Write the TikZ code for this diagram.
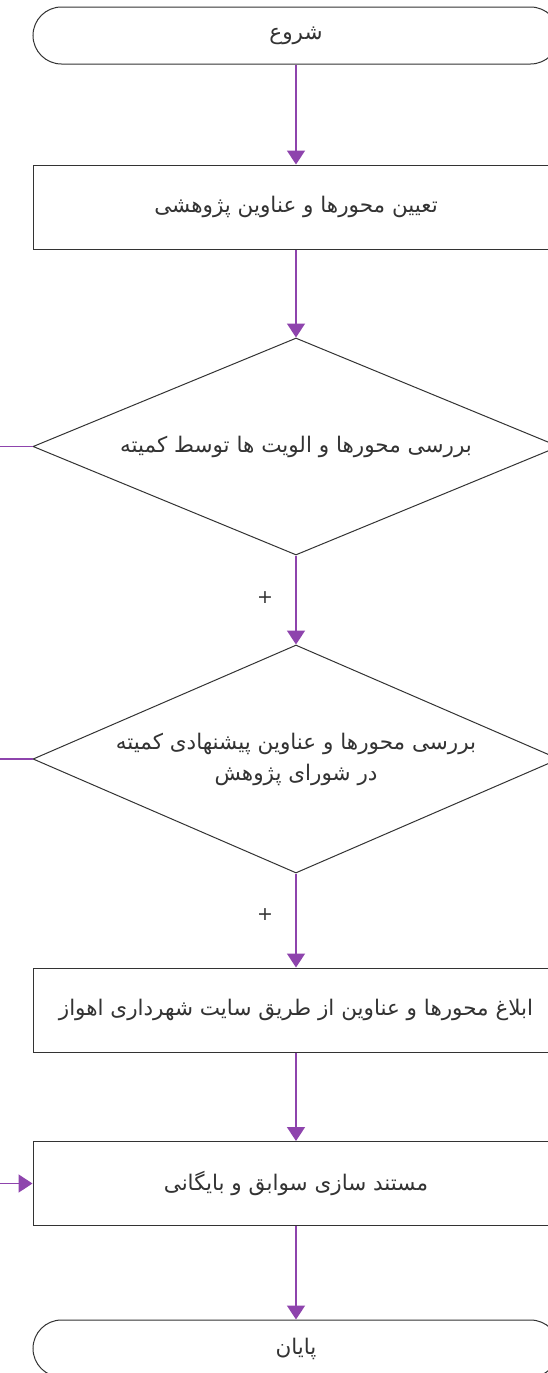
\documentclass[tikz,border=0pt]{standalone}
\usepackage{fontspec}
\newfontfamily\fa[Script=Arabic]{DejaVu Sans}
\newfontfamily\plainsans{DejaVu Sans}
\TeXXeTstate=1
\usetikzlibrary{shapes.geometric,arrows.meta,positioning}
\definecolor{flowline}{HTML}{8E44AD}
\definecolor{shapeline}{HTML}{333333}
\tikzset{
  base/.style={draw=shapeline, line width=1pt, text=shapeline, font=\fa\fontsize{21.5}{31}\selectfont, inner sep=0pt, align=center},
  term/.style={base, rectangle, rounded corners=28.5pt, minimum width=526pt, minimum height=57pt},
  procbox/.style={base, rectangle, minimum width=526pt, minimum height=84pt},
  decide/.style={base, diamond, minimum width=526pt},
  flow/.style={draw=flowline, line width=1.6pt, -{Triangle[width=18pt,length=14pt]}},
  flowplain/.style={draw=flowline, line width=1.6pt},
  plus/.style={font=\plainsans\fontsize{19}{19}\selectfont, text=shapeline}
}
\begin{document}
\begin{tikzpicture}[x=1pt,y=-1pt]
\clip (0,0) rectangle (548,1373);
\fill[white] (0,0) rectangle (548,1373);
\node[term] (start) at (296,35.5) {\beginR شروع\endR};
\node[procbox] (b1) at (296,207) {\beginR تعیین محورها و عناوین پژوهشی\endR};
\node[decide, aspect=2.424, minimum height=217pt] (d1) at (296,446.5) {\beginR بررسی محورها و الویت ها توسط کمیته\endR};
\node[decide, aspect=2.307, minimum height=228pt] (d2) at (296,759) {\beginR بررسی محورها و عناوین پیشنهادی کمیته\endR\\\beginR در شورای پژوهش\endR};
\node[procbox] (b3) at (296,1010) {\beginR ابلاغ محورها و عناوین از طریق سایت شهرداری اهواز\endR};
\node[procbox] (b4) at (296,1183.5) {\beginR مستند سازی سوابق و بایگانی\endR};
\node[term] (stop) at (296,1348.5) {\beginR پایان\endR};
\node[plus] (p1) at (265,598) {+};
\node[plus] (p2) at (265,915) {+};
\draw[flow] (start) -- (b1);
\draw[flow] (b1) -- (d1);
\draw[flow] (d1) -- (d2);
\draw[flow] (d2) -- (b3);
\draw[flow] (b3) -- (b4);
\draw[flow] (b4) -- (stop);
\coordinate (loopx) at (-40,0);
\draw[flowplain] (d1.west) -- (d1.west -| loopx) -- (b4.west -| loopx);
\draw[flowplain] (d2.west) -- (d2.west -| loopx);
\draw[flow] (b4.west -| loopx) -- (b4.west);
\end{tikzpicture}
\end{document}
